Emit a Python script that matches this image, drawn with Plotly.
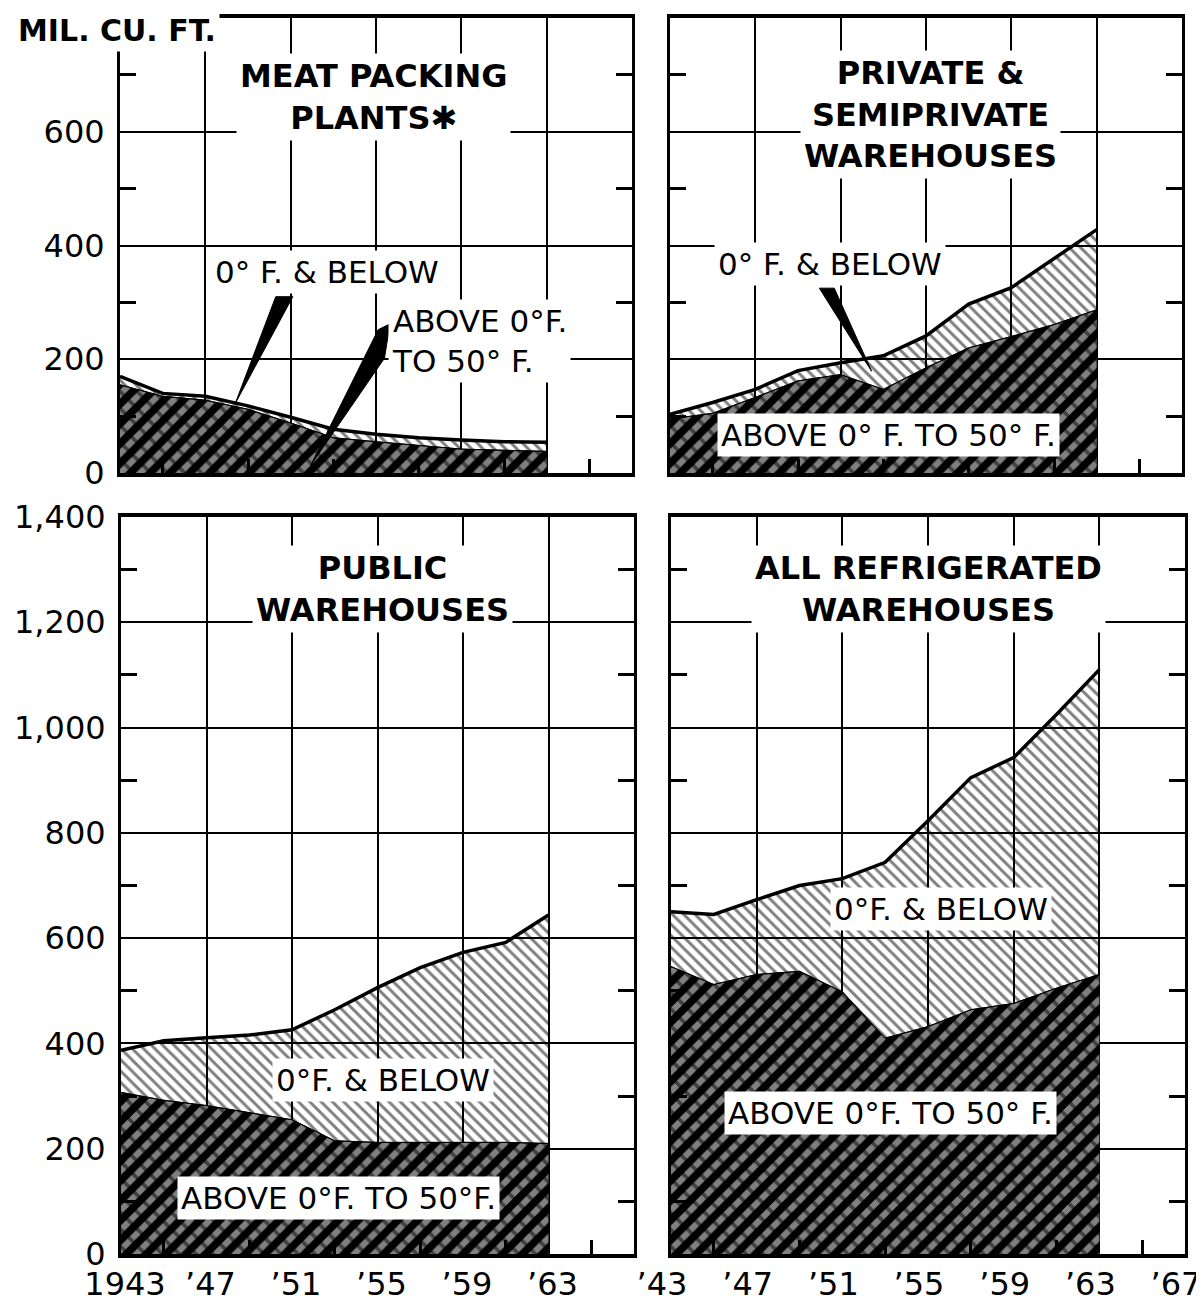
import plotly.graph_objects as go

# ---------------- data (million cubic feet) ----------------
years = [1943, 1945, 1947, 1949, 1951, 1953, 1955, 1957, 1959, 1961, 1963]

meat_above0 = [155, 135, 128, 112, 88, 62, 55, 48, 42, 40, 38]
meat_below0 = [15, 5, 7, 6, 10, 15, 13, 14, 16, 15, 16]

private_above0 = [95, 105, 133, 162, 173, 147, 185, 220, 240, 261, 287]
private_below0 = [8, 19, 14, 18, 21, 59, 56, 77, 86, 116, 141]

public_above0 = [307, 292, 282, 268, 255, 215, 212, 212, 212, 212, 210]
public_below0 = [80, 113, 129, 148, 171, 249, 294, 332, 361, 380, 434]

all_above0 = [546, 512, 531, 537, 498, 410, 432, 464, 476, 505, 531]
all_below0 = [104, 133, 142, 163, 215, 334, 391, 441, 467, 520, 579]

x_ticks = [1943, 1947, 1951, 1955, 1959, 1963, 1967]
x_labels_left = ["1943", "’47", "’51", "’55", "’59", "’63", ""]
x_labels_right = ["’43", "’47", "’51", "’55", "’59", "’63", "’67"]
y_ticks_top = [0, 200, 400, 600]
y_labels_top = ["0", "200", "400", "600"]
y_ticks_bottom = [0, 200, 400, 600, 800, 1000, 1200, 1400]
y_labels_bottom = ["0", "200", "400", "600", "800", "1,000", "1,200", "1,400"]

# ---------------- layout helpers ----------------
W, H = 1204, 1301
FONT = "DejaVu Sans"


def fx(px):
    return px / W


def fy(py):
    return 1 - py / H


panels = [
    dict(sfx="", above=meat_above0, below=meat_below0, xpx=(112, 624), ypx=(10, 465),
         ymax=800, yt=y_ticks_top, yl=y_labels_top, ylab=True, xlab=None, shift=0),
    dict(sfx="2", above=private_above0, below=private_below0, xpx=(662, 1174), ypx=(10, 465),
         ymax=800, yt=y_ticks_top, yl=y_labels_top, ylab=False, xlab=None, shift=0),
    dict(sfx="3", above=public_above0, below=public_below0, xpx=(113, 626), ypx=(509, 1246),
         ymax=1400, yt=y_ticks_bottom, yl=y_labels_bottom, ylab=True, xlab=x_labels_left, shift=4),
    dict(sfx="4", above=all_above0, below=all_below0, xpx=(663, 1177), ypx=(509, 1246),
         ymax=1400, yt=y_ticks_bottom, yl=y_labels_bottom, ylab=False, xlab=x_labels_right, shift=-9),
]

fig = go.Figure()
layout = dict(
    width=W, height=H, margin=dict(l=0, r=0, t=0, b=0, autoexpand=False),
    paper_bgcolor="white", plot_bgcolor="white", showlegend=False,
    font=dict(family=FONT, color="black"),
)

for p in panels:
    s = p["sfx"]
    xa, ya = "x" + s, "y" + s
    total = [a + b for a, b in zip(p["above"], p["below"])]
    # above 0 F to 50 F : black with white diagonal dashes
    fig.add_trace(go.Scatter(
        x=years, y=p["above"], xaxis=xa, yaxis=ya, mode="lines", fill="tozeroy",
        line=dict(color="black", width=1), fillcolor="black",
        fillpattern=dict(shape="/", fgcolor="white", bgcolor="black", size=14, solidity=0.45),
        hoverinfo="skip"))
    fig.add_trace(go.Scatter(
        x=years, y=p["above"], xaxis=xa, yaxis=ya, mode="lines", fill="tozeroy",
        line=dict(color="black", width=1), fillcolor="rgba(0,0,0,0)",
        fillpattern=dict(shape="\\", fgcolor="black", bgcolor="rgba(0,0,0,0)", size=12, solidity=0.3),
        hoverinfo="skip"))
    # 0 F and below : fine diagonal hatching
    fig.add_trace(go.Scatter(
        x=years, y=total, xaxis=xa, yaxis=ya, mode="lines", fill="tonexty",
        line=dict(color="black", width=3.5), fillcolor="rgba(0,0,0,0)",
        fillpattern=dict(shape="\\", fgcolor="black", bgcolor="rgba(0,0,0,0)", size=8, solidity=0.36),
        hoverinfo="skip"))

    xkey = "xaxis" + s
    ykey = "yaxis" + s
    layout[xkey] = dict(
        domain=[fx(p["xpx"][0]), fx(p["xpx"][1])], anchor=ya, range=[1943, 1967],
        automargin=False,
        showline=True, linecolor="black", linewidth=3.5, mirror=True,
        showgrid=True, gridcolor="black", gridwidth=2, zeroline=False,
        tickmode="array", tickvals=x_ticks,
        ticktext=p["xlab"] if p["xlab"] else [""] * len(x_ticks),
        showticklabels=bool(p["xlab"]), ticks="",
        tickfont=dict(family=FONT, size=32, color="black"),
        ticklabelstandoff=-1, ticklabelshift=p["shift"],
        minor=dict(tickmode="array", tickvals=[1945, 1949, 1953, 1957, 1961, 1965],
                   ticks="inside", ticklen=14, tickwidth=2.5, tickcolor="black", showgrid=False),
    )
    layout[ykey] = dict(
        domain=[fy(p["ypx"][1]), fy(p["ypx"][0])], anchor=xa, range=[0, p["ymax"]],
        automargin=False,
        showline=True, linecolor="black", linewidth=3, mirror="ticks",
        showgrid=True, gridcolor="black", gridwidth=2, zeroline=False,
        tickmode="array", tickvals=p["yt"], ticktext=p["yl"],
        showticklabels=p["ylab"], ticks="",
        tickfont=dict(family=FONT, size=32, color="black"), ticklabelstandoff=6,
        minor=dict(tickmode="array", tickvals=list(range(100, p["ymax"], 200)),
                   ticks="inside", ticklen=16, tickwidth=2.5, tickcolor="black", showgrid=False),
    )

fig.update_layout(**layout)

# ---------------- callout wedges (in data coordinates) ----------------
wedges = [
    ("x", "y", [(1950.3, 310), (1951.1, 310), (1948.4, 122)]),
    ("x", "y", [(1955.1, 252), (1955.65, 262), (1955.4, 202), (1951.95, 14)]),
    ("x2", "y2", [(1950.0, 325), (1950.7, 325), (1952.45, 179)]),
]
for xr, yr, pts in wedges:
    path = "M " + " L ".join(f"{a},{b}" for a, b in pts) + " Z"
    fig.add_shape(type="path", path=path, xref=xr, yref=yr,
                  fillcolor="black", line=dict(color="black", width=1), layer="above")

# ---------------- text ----------------
def note(text, xpx, ypx, size, bold=False, bg="white", xanchor="center", align="center"):
    fig.add_annotation(
        text=f"<b>{text}</b>" if bold else text, x=fx(xpx), y=fy(ypx),
        xref="paper", yref="paper", xanchor=xanchor, yanchor="middle", align=align,
        showarrow=False, bgcolor=bg, borderpad=3,
        font=dict(family=FONT, size=size, color="black"))


note("MIL. CU. FT.", 6, 22, 30, bold=True, xanchor="left")
note("MEAT PACKING<br>PLANTS✱", 365, 89, 32, bold=True)
note("PRIVATE &amp;<br>SEMIPRIVATE<br>WAREHOUSES", 922, 106, 32, bold=True)
note("PUBLIC<br>WAREHOUSES", 374, 581, 32, bold=True)
note("ALL REFRIGERATED<br>WAREHOUSES", 920, 581, 32, bold=True)

note("0° F. &amp; BELOW", 319, 264, 31)
note("ABOVE 0°F.<br>TO 50° F.", 380, 333, 31, xanchor="left", align="left")
note("0° F. &amp; BELOW", 822, 256, 31)
note("ABOVE 0° F. TO 50° F.", 880, 427, 31)
note("0°F. &amp; BELOW", 375, 1072, 31)
note("ABOVE 0°F. TO 50°F.", 330, 1190, 31)
note("0°F. &amp; BELOW", 933, 901, 31)
note("ABOVE 0°F. TO 50° F.", 882, 1105, 31)

fig.write_html("out.html")
